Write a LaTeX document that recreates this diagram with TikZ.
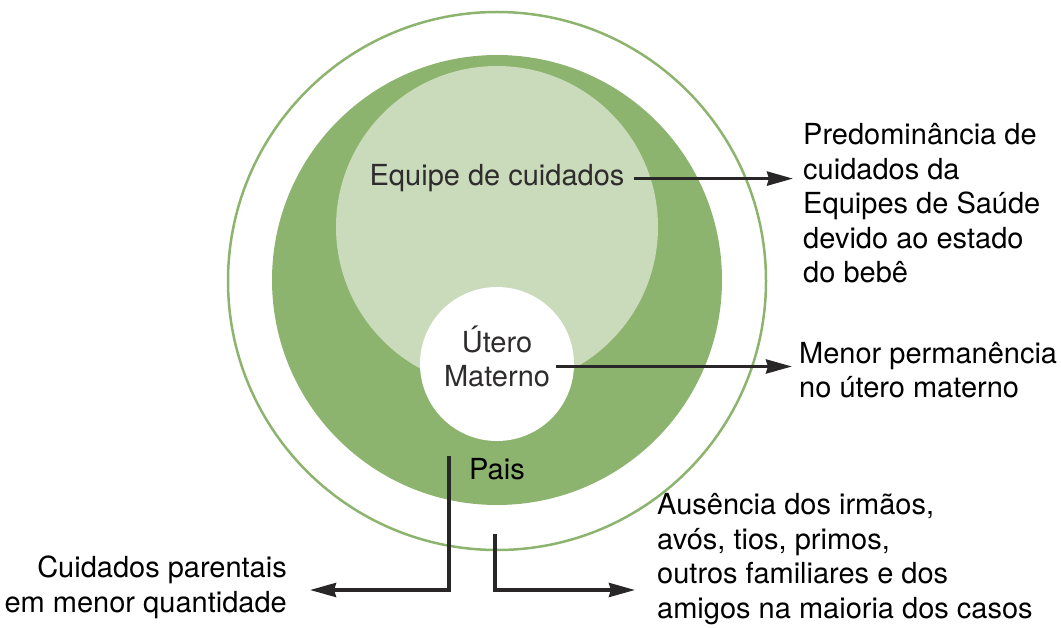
\documentclass[tikz,border=0pt]{standalone}
\usepackage{fontspec}
\setmainfont{TeX Gyre Heros}
\usetikzlibrary{arrows.meta}
\definecolor{verdeescuro}{HTML}{8DB46E}
\definecolor{verdeclaro}{HTML}{C9DBBA}
\definecolor{tinta}{HTML}{282626}
\definecolor{cinza}{HTML}{2E2C2C}

\begin{document}
\begin{tikzpicture}[x=1pt,y=-1pt,
    txt/.style={inner sep=0pt,font=\fontsize{29}{34.5}\selectfont},
    seta/.style={draw=tinta,line width=3.5pt,-{Stealth[length=26pt,width=14pt,inset=2pt]}}]
  \useasboundingbox (0,0) rectangle (1061,628);
  % circulos
  \draw[verdeescuro,line width=2.5pt] (497,281) circle [radius=269pt];
  \fill[verdeescuro] (497,280) circle [radius=225pt];
  \fill[verdeclaro] (497,227) circle [radius=161pt];
  \fill[white] (497,364) circle [radius=77pt];
  % textos
  \draw
    (497,186) node[txt,anchor=base,text=cinza] (equipe) {Equipe de cuidados}
    (497,356.5) node[txt,align=center,text=cinza] (utero) {Útero\\Materno}
    (497,479) node[txt,anchor=base] (pais) {Pais}
    (803,123.5) node[txt,anchor=north west,align=left] (predom)
      {Predominância de\\cuidados da\\Equipes de Saúde\\devido ao estado\\do bebê}
    (799,342) node[txt,anchor=north west,align=left] (menor)
      {Menor permanência\\no útero materno}
    (287,556) node[txt,anchor=north east,align=right] (parentais)
      {Cuidados parentais\\em menor quantidade}
    (657,493.5) node[txt,anchor=north west,align=left] (ausencia)
      {Ausência dos irmãos,\\avós, tios, primos,\\outros familiares e dos\\amigos na maioria dos casos};
  \coordinate (paisesq) at (449,456);
  \coordinate (dobraesq) at (449,590);
  \coordinate (paisdir) at (495,534);
  \coordinate (dobradir) at (495,590);
  \coordinate (saida) at ([xshift=6pt,yshift=-10pt]utero.east);
  % setas
  \begin{scope}[seta]
    \draw ([xshift=9pt]equipe.east) -- ([xshift=-10pt]equipe.east -| predom.west);
    \draw (saida) -- ([xshift=-7pt]saida -| menor.west);
    \draw (paisesq) -- (dobraesq) -- ([xshift=23pt]dobraesq -| parentais.east);
    \draw (paisdir) -- (dobradir) -- ([xshift=-22pt]dobradir -| ausencia.west);
  \end{scope}
\end{tikzpicture}
\end{document}
